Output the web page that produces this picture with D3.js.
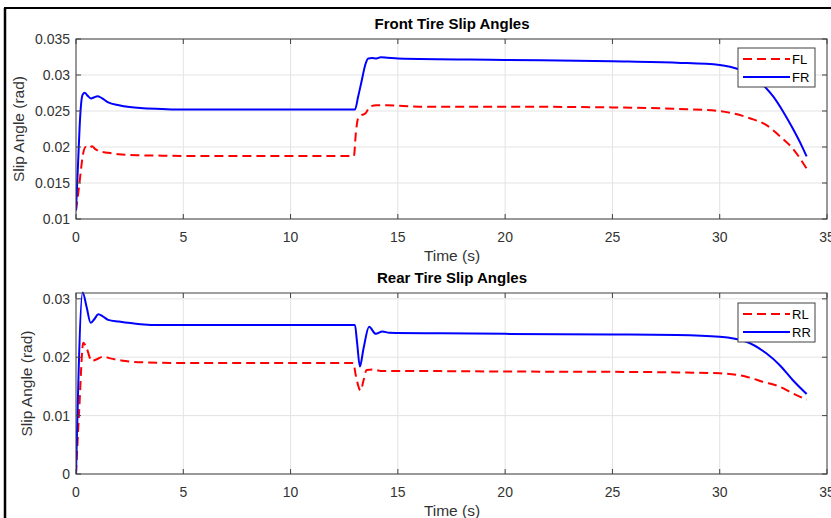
<!DOCTYPE html>
<html><head><meta charset="utf-8">
<script src="https://cdn.jsdelivr.net/npm/d3@7"></script>
<style>
html,body{margin:0;padding:0;background:#fff;}
svg{display:block;font-family:"Liberation Sans",Arial,Helvetica,sans-serif;}
</style></head>
<body><svg id="c" width="831" height="518"></svg>
<script>
// ---------- data ----------
const xTicks = [0,5,10,15,20,25,30,35];
const xTickLabels = ["0","5","10","15","20","25","30","35"];
const frontYTicks = [0.01,0.015,0.02,0.025,0.03,0.035];
const frontYTickLabels = ["0.01","0.015","0.02","0.025","0.03","0.035"];
const rearYTicks = [0,0.01,0.02,0.03];
const rearYTickLabels = ["0","0.01","0.02","0.03"];

const frTime = [0,0.1,0.2,0.3,0.4,0.55,0.7,0.85,1.0,1.2,1.5,2.0,2.5,3.0,4.0,5.0,8,13.0,13.15,13.3,13.5,13.62,13.8,14.0,14.2,14.5,15,20,25,28,30,31,31.5,32,32.5,33,33.4,33.8,34.05];
const frVals = [0.0112,0.0180,0.0245,0.0272,0.02752,0.0271,0.02675,0.0269,0.02705,0.0268,0.0262,0.0258,0.02555,0.0254,0.02528,0.0252,0.0252,0.0252,0.0270,0.0290,0.0316,0.0323,0.03235,0.0323,0.03245,0.0324,0.0323,0.0321,0.0319,0.0317,0.0314,0.0307,0.0301,0.0287,0.0270,0.0247,0.0226,0.0203,0.0187];

const flTime = [0,0.1,0.2,0.3,0.45,0.6,0.75,0.9,1.1,1.5,2,3,4,5,12.95,13.05,13.15,13.3,13.5,13.7,14.0,14.5,16,20,25,28,30,30.6,31.4,32.2,32.8,33.4,34.05];
const flVals = [0.0112,0.0135,0.0160,0.0185,0.0200,0.0198,0.0201,0.0197,0.0194,0.0192,0.0190,0.01885,0.0188,0.01875,0.01875,0.0222,0.0240,0.0244,0.0247,0.0256,0.0258,0.0258,0.0256,0.0256,0.0255,0.0253,0.0250,0.02468,0.0240,0.0230,0.0215,0.0198,0.0170];

const rrTime = [0,0.31,0.5,0.68,0.85,1.04,1.25,1.5,2.0,3.0,4.0,5,13.0,13.1,13.23,13.4,13.66,13.97,14.28,14.6,17,20,25,28,30,31.24,32.17,32.79,33.4,34.05];
const rrVals = [0,0.0311,0.0285,0.0259,0.0265,0.02735,0.0270,0.0264,0.0261,0.02565,0.0255,0.02552,0.02552,0.0225,0.0184,0.0215,0.0252,0.0240,0.0244,0.0242,0.0241,0.0240,0.0239,0.0238,0.0235,0.02266,0.02067,0.01867,0.0161,0.0137];

const rlTime = [0,0.15,0.34,0.5,0.73,1.0,1.27,1.6,2.3,3.3,5,12.92,13.05,13.26,13.4,13.54,13.85,14.2,17,20,25,28,30,31.24,32,32.8,33.4,34.05];
const rlVals = [0,0.011,0.0225,0.0215,0.01935,0.0197,0.0201,0.0198,0.01935,0.0191,0.0190,0.0190,0.0167,0.0143,0.0160,0.0178,0.0179,0.01765,0.01762,0.01755,0.0175,0.0174,0.01724,0.01667,0.01581,0.01495,0.01382,0.0127];

// ---------- drawing ----------
const svg = d3.select("#c");
const axisCol = "#404040", textCol = "#333", gridCol = "#e3e3e3";

// figure border
svg.append("line").attr("x1",5).attr("x2",5).attr("y1",8).attr("y2",518).attr("stroke","#000").attr("stroke-width",2.5);
svg.append("line").attr("x1",4).attr("x2",831).attr("y1",8).attr("y2",8).attr("stroke","#000").attr("stroke-width",2);

function panel(cfg){
  const x = d3.scaleLinear().domain([0,35]).range([76,827]);
  const y = d3.scaleLinear().domain(cfg.yDomain).range([cfg.bottom,cfg.top]);
  const g = svg.append("g");
  // grid
  g.selectAll(".gx").data(xTicks).enter().append("line")
    .attr("x1",d=>x(d)).attr("x2",d=>x(d)).attr("y1",cfg.top).attr("y2",cfg.bottom)
    .attr("stroke",gridCol).attr("stroke-width",1);
  g.selectAll(".gy").data(cfg.yTicks).enter().append("line")
    .attr("x1",76).attr("x2",827).attr("y1",d=>y(d)).attr("y2",d=>y(d))
    .attr("stroke",gridCol).attr("stroke-width",1);
  // lines
  const clipId = "clip"+cfg.id;
  svg.append("clipPath").attr("id",clipId).append("rect")
    .attr("x",76).attr("y",cfg.top-3).attr("width",751).attr("height",cfg.bottom-cfg.top+3);
  const line = d3.line().x(d=>x(d[0])).y(d=>y(d[1])).curve(d3.curveMonotoneX);
  cfg.series.forEach(s=>{
    g.append("path").datum(d3.zip(s.t,s.v)).attr("d",line)
      .attr("fill","none").attr("stroke",s.color).attr("stroke-width",2)
      .attr("stroke-dasharray",s.dash||null).attr("stroke-linejoin","round")
      .attr("clip-path",`url(#${clipId})`);
  });
  // box
  g.append("rect").attr("x",76).attr("y",cfg.top).attr("width",751).attr("height",cfg.bottom-cfg.top)
    .attr("fill","none").attr("stroke",axisCol).attr("stroke-width",1);
  // ticks inward
  const tl = 5;
  xTicks.forEach(d=>{
    g.append("line").attr("x1",x(d)).attr("x2",x(d)).attr("y1",cfg.bottom).attr("y2",cfg.bottom-tl).attr("stroke",axisCol);
    g.append("line").attr("x1",x(d)).attr("x2",x(d)).attr("y1",cfg.top).attr("y2",cfg.top+tl).attr("stroke",axisCol);
  });
  cfg.yTicks.forEach(d=>{
    g.append("line").attr("x1",76).attr("x2",76+tl).attr("y1",y(d)).attr("y2",y(d)).attr("stroke",axisCol);
    g.append("line").attr("x1",827).attr("x2",827-tl).attr("y1",y(d)).attr("y2",y(d)).attr("stroke",axisCol);
  });
  // tick labels
  g.selectAll(".xl").data(xTicks).enter().append("text")
    .attr("x",d=>x(d)).attr("y",cfg.bottom+23).attr("text-anchor","middle")
    .attr("font-size",14).attr("fill",textCol).text((d,i)=>xTickLabels[i]);
  g.selectAll(".yl").data(cfg.yTicks).enter().append("text")
    .attr("x",70).attr("y",d=>y(d)+5).attr("text-anchor","end")
    .attr("font-size",14).attr("fill",textCol).text((d,i)=>cfg.yTickLabels[i]);
  // axis labels
  g.append("text").attr("x",452).attr("y",cfg.bottom+42).attr("text-anchor","middle")
    .attr("font-size",15.5).attr("fill",textCol).text("Time (s)");
  g.append("text").attr("transform",`translate(${cfg.ylabX},${(cfg.top+cfg.bottom)/2}) rotate(-90)`)
    .attr("text-anchor","middle").attr("font-size",15.5).attr("fill",textCol).text("Slip Angle (rad)");
  // title
  g.append("text").attr("x",452).attr("y",cfg.top-10).attr("text-anchor","middle")
    .attr("font-size",15).attr("font-weight","bold").attr("fill","#000").text(cfg.title);
  // legend
  const lg = g.append("g").attr("transform",`translate(738,${cfg.legY})`);
  lg.append("rect").attr("width",77).attr("height",39).attr("fill","#fff").attr("stroke",axisCol).attr("stroke-width",1);
  cfg.series.forEach((s,i)=>{
    const yy = 11 + i*18;
    lg.append("line").attr("x1",5).attr("x2",52).attr("y1",yy).attr("y2",yy)
      .attr("stroke",s.color).attr("stroke-width",2).attr("stroke-dasharray",s.dash||null);
    lg.append("text").attr("x",54).attr("y",yy+5).attr("font-size",13).attr("fill","#000").text(s.name);
  });
}

panel({id:1, top:39, bottom:219, yDomain:[0.01,0.035], yTicks:frontYTicks, yTickLabels:frontYTickLabels,
  title:"Front Tire Slip Angles", ylabX:24, legY:48,
  series:[{name:"FL",t:flTime,v:flVals,color:"#ff0000",dash:"9,5"},{name:"FR",t:frTime,v:frVals,color:"#0000ff"}]});
panel({id:2, top:293, bottom:474, yDomain:[0,0.031], yTicks:rearYTicks, yTickLabels:rearYTickLabels,
  title:"Rear Tire Slip Angles", ylabX:32, legY:303,
  series:[{name:"RL",t:rlTime,v:rlVals,color:"#ff0000",dash:"9,5"},{name:"RR",t:rrTime,v:rrVals,color:"#0000ff"}]});
</script></body></html>
